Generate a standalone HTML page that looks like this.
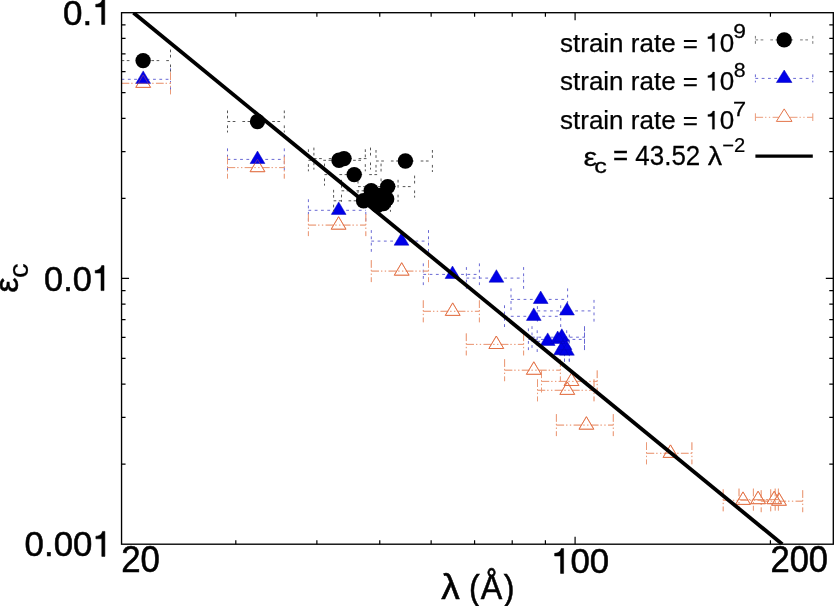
<!DOCTYPE html>
<html><head><meta charset="utf-8"><style>
html,body{margin:0;padding:0;background:#fff;width:834px;height:606px;overflow:hidden;}
svg{display:block;font-family:"Liberation Sans",sans-serif;}
.t{opacity:0.999}
</style></head><body>
<svg width="834" height="606" viewBox="0 0 834 606">
<defs><clipPath id="pc"><rect x="121.55" y="12.7" width="711.75" height="531.5"/></clipPath></defs>
<rect width="834" height="606" fill="#fff"/>
<g>
<path fill="none" stroke-width="1" stroke="#6868d4" stroke-dasharray="2.8 3.5" d="M121.55 79.3H170.5M170.5 68.3V90.3M227.5 159.4H284.3M227.5 148.4V170.4M284.3 148.4V170.4M308.4 210.3H365.8M308.4 199.3V221.3M365.8 199.3V221.3M371.3 241.1H428.5M371.3 230.1V252.1M428.5 230.1V252.1M423.3 274.4H479.4M423.3 263.4V285.4M479.4 263.4V285.4M466.4 278.1H523.6M466.4 267.1V289.1M523.6 267.1V289.1M511 299.4H567.6M511 288.4V310.4M567.6 288.4V310.4M504.5 316.3H560.7M504.5 305.3V327.3M560.7 305.3V327.3M537.4 310.9H594M537.4 299.9V321.9M594 299.9V321.9M537.2 341.3H566.7M537.2 330.3V352.3M566.7 330.3V352.3M528.4 339.4H584.5M528.4 328.4V350.4M584.5 328.4V350.4M532 337.2H584.5M532 326.2V348.2M584.5 326.2V348.2M564.5 351.1H569.3M564.5 340.1V362.1M569.3 340.1V362.1M564.5 350.6H569.3M564.5 339.6V361.6M569.3 339.6V361.6M564.5 345.5H569.3M564.5 334.5V356.5M569.3 334.5V356.5"/>
<path fill="none" stroke-width="1" stroke="#eb9a78" stroke-dasharray="7.7 2 1.3 2.5 1.3 2.4" d="M121.55 83.3H170.5M170.5 72.3V94.3M227.5 167.6H284.3M227.5 156.6V178.6M284.3 156.6V178.6M308.4 225.1H365.8M308.4 214.1V236.1M365.8 214.1V236.1M371.3 271.1H428.5M371.3 260.1V282.1M428.5 260.1V282.1M423.3 311.3H479.4M423.3 300.3V322.3M479.4 300.3V322.3M466.3 344.4H523.6M466.3 333.4V355.4M523.6 333.4V355.4M504.6 370.2H560.4M504.6 359.2V381.2M560.4 359.2V381.2M541.5 381.4H597.2M541.5 370.4V392.4M597.2 370.4V392.4M537.5 390.3H594M537.5 379.3V401.3M594 379.3V401.3M556.4 425.1H613.3M556.4 414.1V436.1M613.3 414.1V436.1M646.5 453.3H691.9M646.5 442.3V464.3M691.9 442.3V464.3M723.2 500.3H770.7M723.2 489.3V511.3M770.7 489.3V511.3M739 499.6H775.2M739 488.6V510.6M775.2 488.6V510.6M753.4 499.6H778.4M753.4 488.6V510.6M778.4 488.6V510.6M761.2 501.2H802.7M761.2 490.2V512.2M802.7 490.2V512.2"/>
<path fill="none" stroke="#e26d40" stroke-width="0.95" stroke-linejoin="miter" d="M143.2 74.9L150.6 87.4L135.8 87.4ZM257.5 159.2L264.9 171.7L250.1 171.7ZM338.6 216.7L346 229.2L331.2 229.2ZM401.7 262.7L409.1 275.2L394.3 275.2ZM452.7 302.9L460.1 315.4L445.3 315.4ZM496.3 336L503.7 348.5L488.9 348.5ZM533.8 361.8L541.2 374.3L526.4 374.3ZM571.5 373L578.9 385.5L564.1 385.5ZM567.3 381.9L574.7 394.4L559.9 394.4ZM586.4 416.7L593.8 429.2L579 429.2ZM670.5 444.9L677.9 457.4L663.1 457.4ZM743 491.9L750.4 504.4L735.6 504.4ZM758.1 491.2L765.5 503.7L750.7 503.7ZM774.2 491.2L781.6 503.7L766.8 503.7ZM779 492.8L786.4 505.3L771.6 505.3Z"/>
<path fill="#0000e8" stroke="#0000b8" stroke-width="0.5" d="M143.2 70.9L150.6 83.4L135.8 83.4ZM257.5 151L264.9 163.5L250.1 163.5ZM338.7 201.9L346.1 214.4L331.3 214.4ZM401.5 232.7L408.9 245.2L394.1 245.2ZM452.5 266L459.9 278.5L445.1 278.5ZM496.4 269.7L503.8 282.2L489 282.2ZM540.7 291L548.1 303.5L533.3 303.5ZM533.8 307.9L541.2 320.4L526.4 320.4ZM567 302.5L574.4 315L559.6 315ZM547.7 332.9L555.1 345.4L540.3 345.4ZM557.7 331L565.1 343.5L550.3 343.5ZM561.8 328.8L569.2 341.3L554.4 341.3ZM566.9 342.7L574.3 355.2L559.5 355.2ZM561.1 342.2L568.5 354.7L553.7 354.7ZM564.5 337.1L571.9 349.6L557.1 349.6Z"/>
<g opacity="0.45"><path fill="none" stroke-width="1" stroke="#eb9a78" stroke-dasharray="7.7 2 1.3 2.5 1.3 2.4" d="M121.55 83.3H170.5M170.5 72.3V94.3M227.5 167.6H284.3M227.5 156.6V178.6M284.3 156.6V178.6M308.4 225.1H365.8M308.4 214.1V236.1M365.8 214.1V236.1M371.3 271.1H428.5M371.3 260.1V282.1M428.5 260.1V282.1M423.3 311.3H479.4M423.3 300.3V322.3M479.4 300.3V322.3M466.3 344.4H523.6M466.3 333.4V355.4M523.6 333.4V355.4M504.6 370.2H560.4M504.6 359.2V381.2M560.4 359.2V381.2M541.5 381.4H597.2M541.5 370.4V392.4M597.2 370.4V392.4M537.5 390.3H594M537.5 379.3V401.3M594 379.3V401.3M556.4 425.1H613.3M556.4 414.1V436.1M613.3 414.1V436.1M646.5 453.3H691.9M646.5 442.3V464.3M691.9 442.3V464.3M723.2 500.3H770.7M723.2 489.3V511.3M770.7 489.3V511.3M739 499.6H775.2M739 488.6V510.6M775.2 488.6V510.6M753.4 499.6H778.4M753.4 488.6V510.6M778.4 488.6V510.6M761.2 501.2H802.7M761.2 490.2V512.2M802.7 490.2V512.2"/>
<path fill="none" stroke="#e26d40" stroke-width="0.95" stroke-linejoin="miter" d="M143.2 74.9L150.6 87.4L135.8 87.4ZM257.5 159.2L264.9 171.7L250.1 171.7ZM338.6 216.7L346 229.2L331.2 229.2ZM401.7 262.7L409.1 275.2L394.3 275.2ZM452.7 302.9L460.1 315.4L445.3 315.4ZM496.3 336L503.7 348.5L488.9 348.5ZM533.8 361.8L541.2 374.3L526.4 374.3ZM571.5 373L578.9 385.5L564.1 385.5ZM567.3 381.9L574.7 394.4L559.9 394.4ZM586.4 416.7L593.8 429.2L579 429.2ZM670.5 444.9L677.9 457.4L663.1 457.4ZM743 491.9L750.4 504.4L735.6 504.4ZM758.1 491.2L765.5 503.7L750.7 503.7ZM774.2 491.2L781.6 503.7L766.8 503.7ZM779 492.8L786.4 505.3L771.6 505.3Z"/></g>
<path fill="none" stroke-width="1" stroke="#555" stroke-dasharray="2.7 2.5 2.7 7" d="M121.55 60.6H170.5M170.5 49.6V71.6M227.5 121.5H284.3M227.5 110.5V132.5M284.3 110.5V132.5M308.4 160.3H365.3M308.4 149.3V171.3M365.3 149.3V171.3M313.9 158.6H370.5M313.9 147.6V169.6M370.5 147.6V169.6M324.51 174.6H381.06M324.51 163.6V185.6M381.06 163.6V185.6M376 161H432.4M376 150V172M432.4 150V172M341.51 190.8H398.06M341.51 179.8V201.8M398.06 179.8V201.8M358.01 186.6H414.6M358.01 175.6V197.6M414.6 175.6V197.6M333.6 200.8H390.46M333.6 189.8V211.8M390.46 189.8V211.8"/>
<g fill="#000"><circle cx="143.1" cy="60.6" r="7.7"/><circle cx="257.5" cy="121.5" r="7.7"/><circle cx="339" cy="160.3" r="7.7"/><circle cx="344" cy="158.6" r="7.7"/><circle cx="354.2" cy="174.6" r="7.7"/><circle cx="405.4" cy="161" r="7.7"/><circle cx="371.2" cy="190.8" r="7.7"/><circle cx="387.7" cy="186.6" r="7.7"/><circle cx="363.6" cy="200.8" r="7.7"/><circle cx="386.7" cy="199" r="7.7"/><circle cx="377.7" cy="205.2" r="7.7"/><circle cx="383.5" cy="203.5" r="7.7"/><circle cx="379.5" cy="195.5" r="7.7"/><circle cx="371.5" cy="199.5" r="7.7"/></g>
<line x1="133.43" y1="12.7" x2="782.3" y2="544.2" stroke="#000" stroke-width="3.8" clip-path="url(#pc)"/>
<rect x="121.55" y="12.7" width="711.75" height="531.5" fill="none" stroke="#000" stroke-width="1.35"/>
<path stroke="#000" stroke-width="1.2" d="M235.81 544.2L235.81 540.2M235.81 12.7L235.81 16.7M316.88 544.2L316.88 540.2M316.88 12.7L316.88 16.7M379.76 544.2L379.76 540.2M379.76 12.7L379.76 16.7M431.14 544.2L431.14 540.2M431.14 12.7L431.14 16.7M474.58 544.2L474.58 540.2M474.58 12.7L474.58 16.7M512.21 544.2L512.21 540.2M512.21 12.7L512.21 16.7M545.4 544.2L545.4 540.2M545.4 12.7L545.4 16.7M770.42 544.2L770.42 540.2M770.42 12.7L770.42 16.7M575.09 544.2L575.09 536.7M575.09 12.7L575.09 20.2M121.55 198.45L125.55 198.45M833.3 198.45L829.3 198.45M121.55 151.66L125.55 151.66M833.3 151.66L829.3 151.66M121.55 118.45L125.55 118.45M833.3 118.45L829.3 118.45M121.55 92.7L125.55 92.7M833.3 92.7L829.3 92.7M121.55 71.66L125.55 71.66M833.3 71.66L829.3 71.66M121.55 53.87L125.55 53.87M833.3 53.87L829.3 53.87M121.55 38.45L125.55 38.45M833.3 38.45L829.3 38.45M121.55 24.86L125.55 24.86M833.3 24.86L829.3 24.86M121.55 464.2L125.55 464.2M833.3 464.2L829.3 464.2M121.55 417.41L125.55 417.41M833.3 417.41L829.3 417.41M121.55 384.2L125.55 384.2M833.3 384.2L829.3 384.2M121.55 358.45L125.55 358.45M833.3 358.45L829.3 358.45M121.55 337.41L125.55 337.41M833.3 337.41L829.3 337.41M121.55 319.62L125.55 319.62M833.3 319.62L829.3 319.62M121.55 304.2L125.55 304.2M833.3 304.2L829.3 304.2M121.55 290.61L125.55 290.61M833.3 290.61L829.3 290.61M121.55 278.45L129.05 278.45M833.3 278.45L825.8 278.45"/>
<path fill="none" stroke="#777" stroke-width="1" stroke-dasharray="2.7 2.5 2.7 7" d="M755.4 39.9H812.8 M755.4 35.9V43.9 M812.8 35.9V43.9"/>
<circle cx="784.2" cy="39.9" r="7.7" fill="#000"/>
<path fill="none" stroke="#6868d4" stroke-width="1" stroke-dasharray="2.8 3.5" d="M755.4 78.4H812.8 M755.4 74.4V82.4 M812.8 74.4V82.4"/>
<path fill="#0000e8" stroke="#0000b8" stroke-width="0.5" d="M784.2 70L792 82.5L776.4 82.5Z"/>
<path fill="none" stroke="#eb9a78" stroke-width="1" stroke-dasharray="7.7 2 1.3 2.5 1.3 2.4" d="M755.4 117.3H812.8 M755.4 113.3V121.3 M812.8 113.3V121.3"/>
<path fill="#fff" stroke="#e26d40" stroke-width="0.95" d="M784.2 108.9L792 121.4L776.4 121.4Z"/>
<line x1="755.4" y1="156.2" x2="812.8" y2="156.2" stroke="#000" stroke-width="3.2"/>
<g class="t" font-family="Liberation Sans, sans-serif" fill="#000">
<g transform="matrix(1.0000 0.0000 0.0000 1.0160 63.0000 24.5000)"><text x="0" y="0" font-size="35" stroke="#000" stroke-width="0.55">0. </text><path transform="translate(29.188 0) scale(35)" stroke="#000" stroke-width="0.0157" d="M0.359 0L0.359 -0.703L0.29 -0.703C0.277 -0.645 0.225 -0.571 0.101 -0.568L0.101 -0.494L0.271 -0.494L0.271 0Z"/></g>
<g transform="matrix(0.9787 0.0000 0.0000 1.0160 44.1213 290.6000)"><text x="0" y="0" font-size="35" stroke="#000" stroke-width="0.55">0.0 </text><path transform="translate(48.641 0) scale(35)" stroke="#000" stroke-width="0.0157" d="M0.359 0L0.359 -0.703L0.29 -0.703C0.277 -0.645 0.225 -0.571 0.101 -0.568L0.101 -0.494L0.271 -0.494L0.271 0Z"/></g>
<g transform="matrix(0.9950 0.0000 0.0000 1.0160 24.6050 556.4000)"><text x="0" y="0" font-size="35" stroke="#000" stroke-width="0.55">0.00 </text><path transform="translate(68.109 0) scale(35)" stroke="#000" stroke-width="0.0157" d="M0.359 0L0.359 -0.703L0.29 -0.703C0.277 -0.645 0.225 -0.571 0.101 -0.568L0.101 -0.494L0.271 -0.494L0.271 0Z"/></g>
<g transform="matrix(0.9946 0.0000 0.0000 1.0500 121.2054 572.4000)"><text x="0" y="0" font-size="35" stroke="#000" stroke-width="0.55">20</text></g>
<g transform="matrix(0.9944 0.0000 0.0000 1.0080 551.1167 573.4000)"><text x="0" y="0" font-size="35" stroke="#000" stroke-width="0.55"> 00</text><path transform="translate(0.000 0) scale(35)" stroke="#000" stroke-width="0.0157" d="M0.359 0L0.359 -0.703L0.29 -0.703C0.277 -0.645 0.225 -0.571 0.101 -0.568L0.101 -0.494L0.271 -0.494L0.271 0Z"/></g>
<g transform="matrix(0.9875 0.0000 0.0000 1.0417 770.4125 572.1000)"><text x="0" y="0" font-size="35" stroke="#000" stroke-width="0.55">200</text></g>
<g transform="matrix(1.0588 0.0000 0.0000 1.0000 441.3000 599.2000)"><text x="0" y="0" font-size="35" stroke="#000" stroke-width="0.55">λ</text></g>
<g transform="matrix(0.9208 0.0000 0.0000 1.0194 480.7000 598.9000)"><text x="0" y="0" font-size="35" stroke="#000" stroke-width="0.55">Å</text></g>
<g transform="matrix(0.9208 0.0000 0.0000 1.0194 469.0583 599.7032)"><text x="0" y="0" font-size="35" stroke="#000" stroke-width="0.55">(</text></g>
<g transform="matrix(0.9208 0.0000 0.0000 1.0194 503.7917 599.7032)"><text x="0" y="0" font-size="35" stroke="#000" stroke-width="0.55">)</text></g>
<g transform="matrix(0.9368 0.0000 0.0000 0.9786 18.2000 292.6786)"><g transform="rotate(-90)"><text x="0" y="0" font-size="35" stroke="#000" stroke-width="0.55">ε</text></g></g>
<g transform="matrix(1.0133 0.0000 0.0000 1.0500 28.2000 277.9500)"><g transform="rotate(-90)"><text x="0" y="0" font-size="28" stroke="#000" stroke-width="0.25">c</text></g></g>
<g transform="matrix(1.0000 0.0000 0.0000 1.0000 560.0000 51.5000)"><text x="0" y="0" font-size="26" stroke="#000" stroke-width="0.25">strain rate =  0</text><path transform="translate(145.234 0) scale(26)" stroke="#000" stroke-width="0.0096" d="M0.359 0L0.359 -0.703L0.29 -0.703C0.277 -0.645 0.225 -0.571 0.101 -0.568L0.101 -0.494L0.271 -0.494L0.271 0Z"/></g>
<g transform="matrix(1.1444 0.0000 0.0000 1.0429 733.2556 38.4000)"><text x="0" y="0" font-size="20" stroke="#000" stroke-width="0.25">9</text></g>
<g transform="matrix(1.0000 0.0000 0.0000 1.0000 560.0000 90.4000)"><text x="0" y="0" font-size="26" stroke="#000" stroke-width="0.25">strain rate =  0</text><path transform="translate(145.234 0) scale(26)" stroke="#000" stroke-width="0.0096" d="M0.359 0L0.359 -0.703L0.29 -0.703C0.277 -0.645 0.225 -0.571 0.101 -0.568L0.101 -0.494L0.271 -0.494L0.271 0Z"/></g>
<g transform="matrix(1.0667 0.0000 0.0000 1.0286 733.7333 76.9000)"><text x="0" y="0" font-size="20" stroke="#000" stroke-width="0.25">8</text></g>
<g transform="matrix(1.0000 0.0000 0.0000 1.0000 560.0000 129.3000)"><text x="0" y="0" font-size="26" stroke="#000" stroke-width="0.25">strain rate =  0</text><path transform="translate(145.234 0) scale(26)" stroke="#000" stroke-width="0.0096" d="M0.359 0L0.359 -0.703L0.29 -0.703C0.277 -0.645 0.225 -0.571 0.101 -0.568L0.101 -0.494L0.271 -0.494L0.271 0Z"/></g>
<g transform="matrix(1.1778 0.0000 0.0000 1.0286 733.0222 115.6000)"><text x="0" y="0" font-size="20" stroke="#000" stroke-width="0.25">7</text></g>
<g transform="matrix(1.1800 0.0000 0.0000 1.0143 583.4200 165.6000)"><text x="0" y="0" font-size="26" stroke="#000" stroke-width="0.25">ε</text></g>
<g transform="matrix(1.2625 0.0000 0.0000 1.0455 594.2375 173.2000)"><text x="0" y="0" font-size="20" stroke="#000" stroke-width="0.25">c</text></g>
<g transform="matrix(0.9976 0.0000 0.0000 1.0333 613.0024 165.2000)"><text x="0" y="0" font-size="26" stroke="#000" stroke-width="0.25">= 43.52</text></g>
<g transform="matrix(1.1077 0.0000 0.0000 1.0211 707.7000 165.2000)"><text x="0" y="0" font-size="26" stroke="#000" stroke-width="0.25">λ</text></g>
<g transform="matrix(1.0095 0.0000 0.0000 0.9786 722.1905 152.3000)"><text x="0" y="0" font-size="20" stroke="#000" stroke-width="0.25">−2</text></g>
</g>
</g>
</svg>
</body></html>
